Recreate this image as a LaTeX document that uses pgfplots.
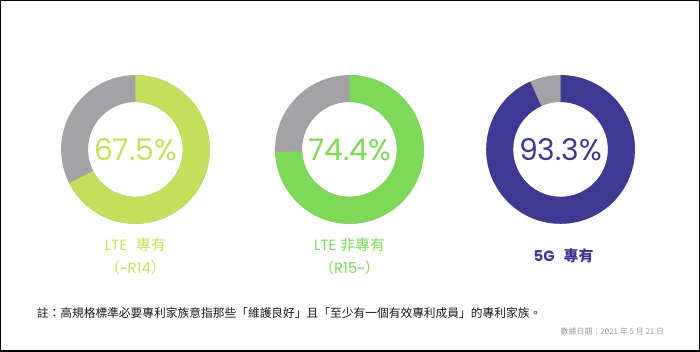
\documentclass[border=0pt]{standalone}
\usepackage{pgfplots}
\pgfplotsset{compat=1.18}
\usepackage{fontspec}
\setmainfont{Poppins}
\newfontfamily\cjk{Noto Sans CJK TC}
\definecolor{cA}{HTML}{C4DF5C}
\definecolor{cB}{HTML}{7DD957}
\definecolor{cC}{HTML}{3E3A94}
\definecolor{cG}{HTML}{A3A3A6}
\pgfdeclareplotmark{donut}{%
  \begin{pgfscope}
    \pgfsetfillcolor{cG}%
    \pgfpathcircle{\pgfpointorigin}{74.5bp}%
    \pgfpathcircle{\pgfpointorigin}{47.5bp}%
    \pgfseteorule
    \pgfusepathqfill
  \end{pgfscope}%
  \pgfmathsetmacro\endang{90-3.6*\val}%
  \pgfpathmoveto{\pgfpointpolar{90}{74.5bp}}%
  \pgfpatharc{90}{\endang}{74.5bp}%
  \pgfpathlineto{\pgfpointpolar{\endang}{47.5bp}}%
  \pgfpatharc{\endang}{90}{47.5bp}%
  \pgfpathclose
  \pgfusepathqfill
}
\begin{document}
\begin{tikzpicture}
\begin{axis}[
  width=700bp, height=351bp, scale only axis,
  xmin=0, xmax=700, ymin=0, ymax=351,
  axis lines=box, ticks=none,
  axis line style={line width=1.5bp, black},
  clip=false,
  donut/.style={only marks, mark=donut, mark options={fill=#1, draw=none},
    visualization depends on={\thisrow{v}\as\val},
    point meta=\thisrow{v},
    nodes near coords={\pgfmathprintnumber[fixed,fixed zerofill,precision=1,assume math mode=true]{\pgfplotspointmeta}\%},
    every node near coord/.style={anchor=center, font=\fontsize{30}{32}\selectfont, text=#1}},
]
\addplot[donut=cA] table {
x y v
135 202 67.5
};
\addplot[donut=cB] table {
x y v
349.5 202 74.4
};
\addplot[donut=cC] table {
x y v
561 202 93.3
};
\node[text=cA, font=\fontsize{15}{17}\selectfont] at (axis cs:135,106) {LTE\hspace{0.6em}{\cjk 專有}};
\node[text=cA, font=\fontsize{15}{17}\selectfont] at (axis cs:135,83) {{\cjk （}\textasciitilde R14{\cjk ）}};
\node[text=cB, font=\fontsize{15}{17}\selectfont] at (axis cs:349.5,106) {LTE {\cjk 非專有}};
\node[text=cB, font=\fontsize{15}{17}\selectfont] at (axis cs:349.5,83) {{\cjk （}R15\textasciitilde{\cjk ）}};
\node[text=cC, font=\fontsize{15}{17}\selectfont\bfseries] at (axis cs:564,95) {5G\hspace{0.6em}{\cjk\bfseries 專有}};
\node[anchor=west, text=black!90, font=\cjk\fontsize{11.8}{14}\selectfont, inner sep=0pt] at (axis cs:36,38) {註：高規格標準必要專利家族意指那些「維護良好」且「至少有一個有效專利成員」的專利家族。};
\node[anchor=east, text=black!40, font=\cjk\fontsize{8}{10}\selectfont, inner sep=0pt] at (axis cs:665,20) {數據日期：2021 年 5 月 21 日};
\end{axis}
\end{tikzpicture}
\end{document}
